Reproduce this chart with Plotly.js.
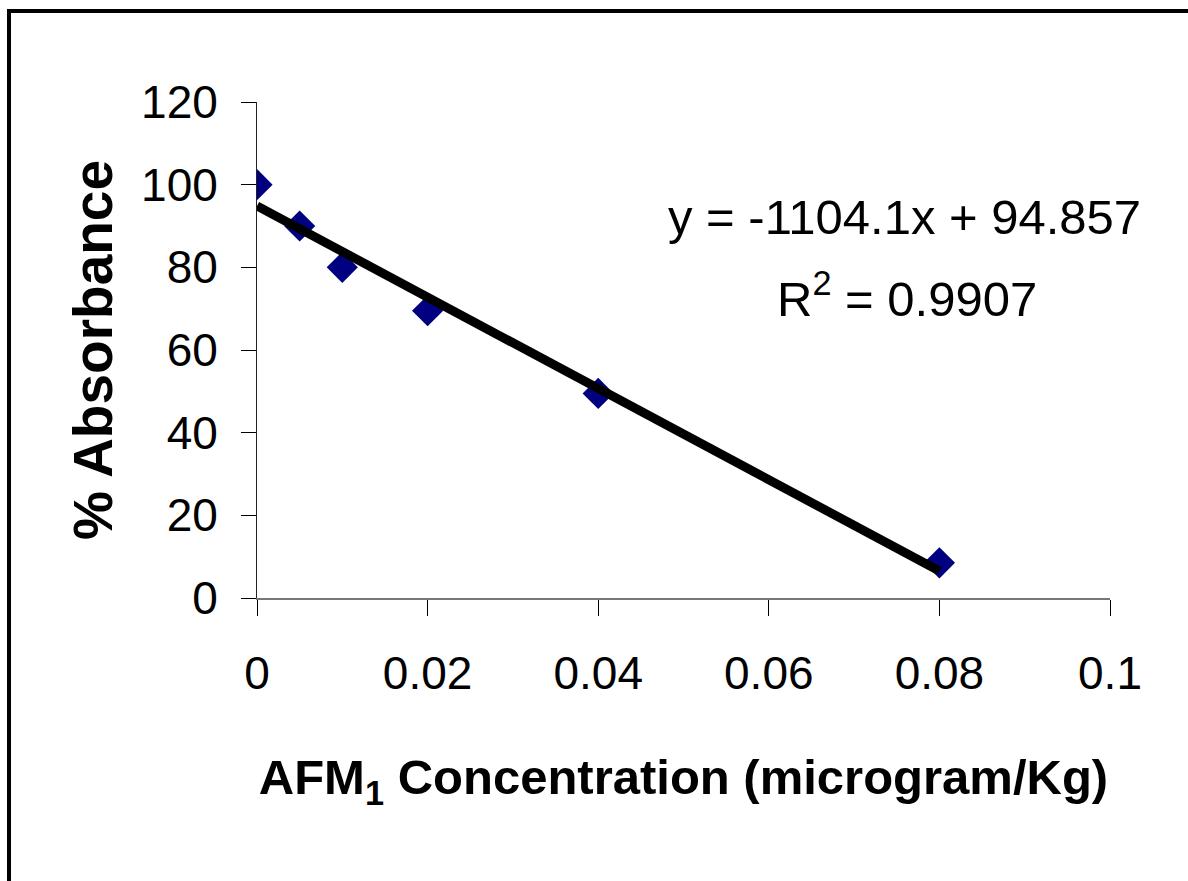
<!DOCTYPE html>
<html>
<head>
<meta charset="utf-8">
<script src="https://cdn.plot.ly/plotly-3.0.1.min.js"></script>
<style>
  html, body { margin: 0; padding: 0; background: #fff; }
  #chart { width: 1188px; height: 881px; position: absolute; left: 0; top: 0; }
  #frame { position: absolute; left: 7px; top: 9px; width: 1300px; height: 1000px;
           border-left: 4px solid #000; border-top: 4px solid #000; pointer-events: none; z-index: 10; }
</style>
</head>
<body>
<div id="chart"></div>
<div id="frame"></div>
<script>
// Data
const concentration = [0, 0.005, 0.01, 0.02, 0.04, 0.08];
const absorbance = [100, 90, 80, 69.5, 49.5, 8.5];
// Trendline equation as printed on the chart
const slope = -1104.1;
const intercept = 94.857;
const rSquared = "0.9907";
const xTicks = [0, 0.02, 0.04, 0.06, 0.08, 0.1];
const xTickLabels = ["0", "0.02", "0.04", "0.06", "0.08", "0.1"];
const yTicks = [0, 20, 40, 60, 80, 100, 120];

const fitX = [Math.min(...concentration), Math.max(...concentration)];
const fitY = fitX.map(x => slope * x + intercept);

const FONT = "'Liberation Sans', Arial, sans-serif";

const traces = [
  {
    x: concentration, y: absorbance, type: 'scatter', mode: 'markers',
    marker: { symbol: 'diamond', size: 24, color: '#000080' },
    showlegend: false, hoverinfo: 'skip'
  },
  {
    x: fitX, y: fitY, type: 'scatter', mode: 'lines',
    line: { color: '#000', width: 9 },
    showlegend: false, hoverinfo: 'skip'
  }
];

const layout = {
  width: 1188, height: 881,
  paper_bgcolor: '#fff', plot_bgcolor: '#fff',
  margin: { l: 257, r: 78, t: 102, b: 282.5 },
  font: { family: FONT, color: '#000', size: 46 },
  showlegend: false,
  xaxis: {
    range: [0, 0.1], tickvals: xTicks, ticktext: xTickLabels,
    showgrid: false, zeroline: false, showline: true, linecolor: '#777', linewidth: 1.5,
    ticks: 'outside', ticklen: 16, tickcolor: '#000', tickwidth: 1,
    ticklabelstandoff: 18,
    tickfont: { family: FONT, size: 46, color: '#000' },
    title: { text: '<b>AFM<sub>1</sub> Concentration (microgram/Kg)</b>',
             font: { family: FONT, size: 49, color: '#000' }, standoff: 62 },
    automargin: false
  },
  yaxis: {
    range: [0, 120], tickvals: yTicks,
    showgrid: false, zeroline: false, showline: true, linecolor: '#222', linewidth: 1,
    ticks: 'outside', ticklen: 15, tickcolor: '#000', tickwidth: 1,
    ticklabelstandoff: 14,
    tickfont: { family: FONT, size: 46, color: '#000' },
    title: { text: '<b>% Absorbance</b>',
             font: { family: FONT, size: 55, color: '#000' }, standoff: 10 },
    automargin: false
  },
  annotations: [
    {
      xref: 'paper', yref: 'paper', x: 0.759, y: 0.769, xanchor: 'center', yanchor: 'middle',
      text: 'y = ' + slope + 'x + ' + intercept, showarrow: false,
      font: { family: FONT, size: 49, color: '#000' }
    },
    {
      xref: 'paper', yref: 'paper', x: 0.762, y: 0.61, xanchor: 'center', yanchor: 'middle',
      text: 'R<sup>2</sup> = ' + rSquared, showarrow: false,
      font: { family: FONT, size: 49, color: '#000' }
    }
  ]
};

Plotly.newPlot('chart', traces, layout, { displayModeBar: false, staticPlot: true });
</script>
</body>
</html>
